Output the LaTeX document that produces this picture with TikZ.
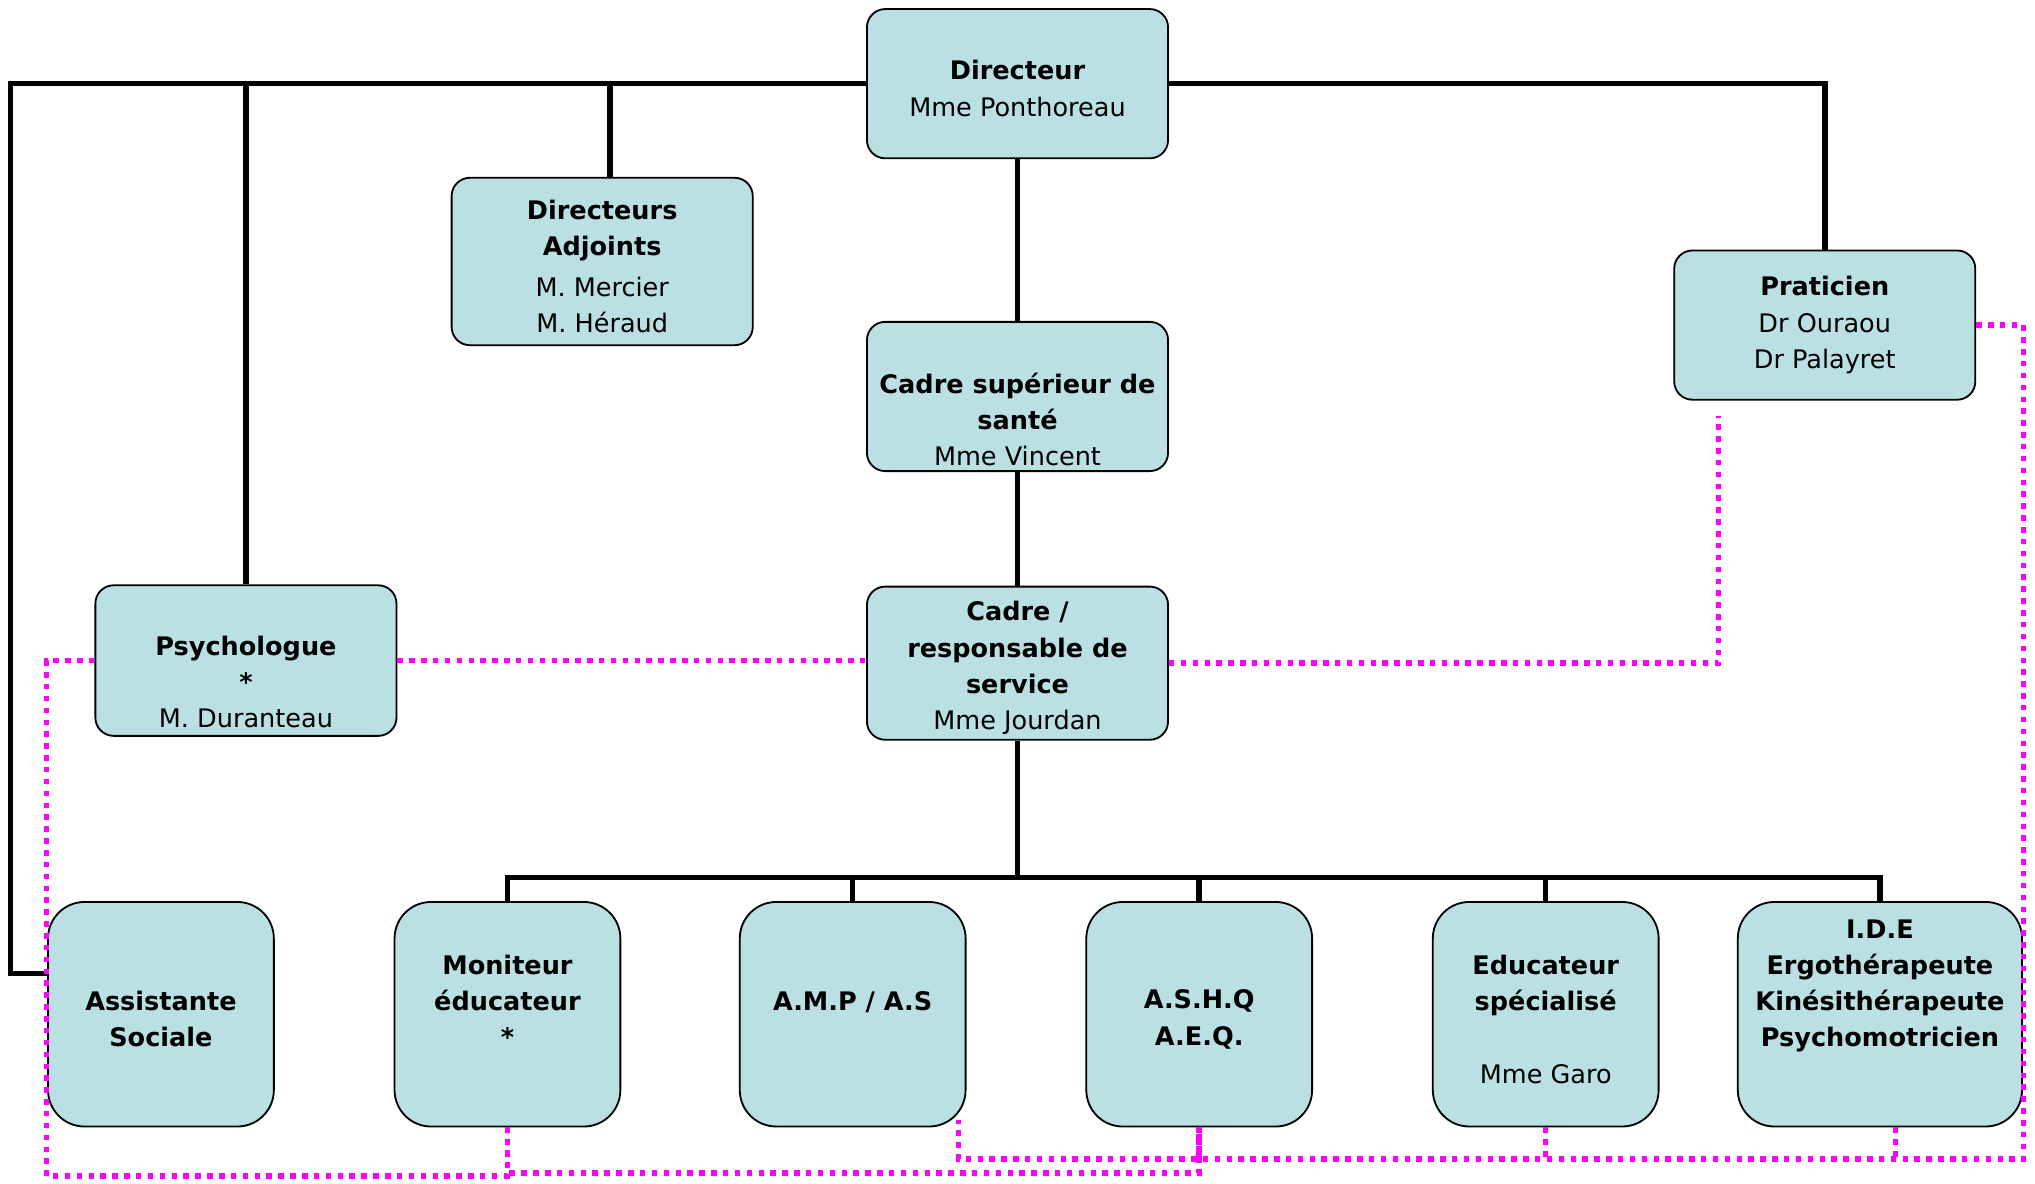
\documentclass[tikz,border=0pt]{standalone}
\usepackage{fontspec}
\setmainfont{DejaVu Sans}
\usepackage{tikz}
\usetikzlibrary{calc}
\definecolor{fond}{RGB}{187,224,227}
\definecolor{rose}{RGB}{255,0,255}
\tikzset{poste/.style={
    draw, line width=0.8pt, fill=fond, rounded corners=8pt,
    minimum width=4.64cm, minimum height=2.3cm, inner sep=2pt,
    align=center, font=\fontsize{11.2}{15.9}\selectfont
  },
  postebas/.style={poste, rounded corners=16pt,
    minimum width=3.48cm, minimum height=3.46cm},
  lien/.style={line width=2.4pt},
  liaison/.style={line width=2.4pt, rose, dash pattern=on 2.4pt off 2.8pt}
}
\let\fonction\textbf
\newcommand\haut[1][12.8pt]{\rule{0pt}{#1}}

\begin{document}
\begin{tikzpicture}[x=0.2mm, y=0.2mm]
            \useasboundingbox (0,0) rectangle (1568,912);
            \node[poste] (DIR) at (784, 847.5) {\haut\fonction{Directeur}\\Mme Ponthoreau};
            \node[poste, minimum height=2.58cm] (ADJ) at (464, 710.5)
                {\haut\fonction{Directeurs}\\\fonction{Adjoints}\\[2pt]M. Mercier\\M. Héraud};
            \node[poste] (CSS) at (784, 606.5)
                {\haut[13.2pt]\\\fonction{Cadre supérieur de}\\\fonction{santé}\\Mme Vincent};
            \node[poste] (PRAT) at (1406, 661.5) {\fonction{Praticien}\\Dr Ouraou\\Dr Palayret};
            \node[poste, minimum height=2.32cm] (PSY) at (189.5, 403)
                {\haut[11.4pt]\\\fonction{Psychologue}\\\fonction{*}\\M. Duranteau};
            \node[poste, minimum height=2.36cm] (CADRE) at (784, 401)
                {\haut\fonction{Cadre /}\\\fonction{responsable de}\\\fonction{service}\\Mme Jourdan};

            \node[postebas] (AS) at (124, 130.5) {\haut\fonction{Assistante}\\\fonction{Sociale}};
            \node[postebas] (ME) at (391, 130.5) {\haut\fonction{Moniteur}\\\fonction{éducateur}\\\fonction{*}\\\mbox{}};
            \node[postebas] (AMP) at (657, 130.5) {\haut\fonction{A.M.P / A.S}\\\mbox{}};
            \node[postebas] (ASHQ) at (924, 130.5) {\haut\fonction{A.S.H.Q}\\\fonction{A.E.Q.}};
            \node[postebas] (ES) at (1191, 130.5)
                {\haut\fonction{Educateur}\\\fonction{spécialisé}\\\mbox{}\\Mme Garo};
            \node[postebas, minimum width=4.38cm] (IDE) at (1448.5, 130.5)
                {\haut\fonction{I.D.E}\\\fonction{Ergothérapeute}\\\fonction{Kinésithérapeute}\\\fonction{Psychomotricien}\\\mbox{}\\\mbox{}};

            % hierarchie
            \coordinate (coin) at (8, 162);
            \coordinate (bus) at (784, 236);
            \draw[lien] (DIR.west) -| (coin) -- (coin -| AS.west);
            \draw[lien] (DIR.west) -| (PSY.north);
            \draw[lien] (DIR.west) -| ([xshift=1.2mm]ADJ.north);
            \draw[lien] (DIR.east) -| (PRAT.north);
            \draw[lien] (DIR.south) -- (CSS.north);
            \draw[lien] (CSS.south) -- (CADRE.north);
            \draw[lien] (CADRE.south) -- (bus);
            \foreach \n in {ME,AMP,ASHQ,ES,IDE}
                \draw[lien] (bus) -| (\n.north);

            % liaisons fonctionnelles
            \coordinate (bg) at (36, 6);
            \coordinate (bd) at (1559, 19);
            \draw[liaison] (PSY.east) -- (PSY.east -| CADRE.west);
            \draw[liaison] (CADRE.east) -| ($(PRAT.south)+(-82,-12)$);
            \draw[liaison] (PRAT.east) -| (bd) -| ($(AMP.south east)+(-6,6)$);
            \draw[liaison] (PSY.west) -| (bg) -| (ME.south);
            \draw[liaison] (ME.south) -- ++(0,-35) -| (ASHQ.south);
            \foreach \n in {ASHQ,ES}
                \draw[liaison] (\n.south) -- (\n.south |- bd);
            \draw[liaison] ($(IDE.south)+(12,0)$) coordinate (ide) -- (ide |- bd);
        \end{tikzpicture}
\end{document}
